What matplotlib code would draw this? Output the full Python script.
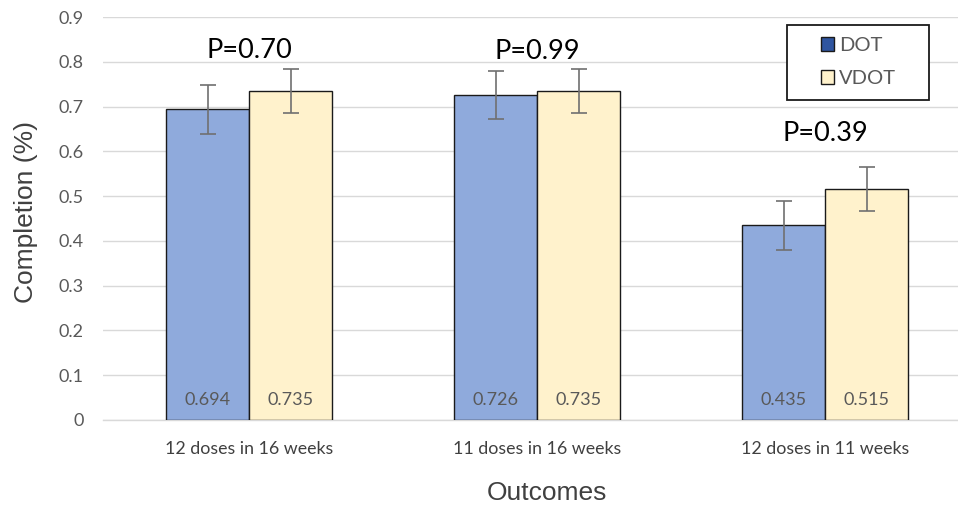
import matplotlib
matplotlib.use("Agg")
import matplotlib.pyplot as plt
from matplotlib.patches import Patch, Rectangle
import numpy as np

categories = ["12 doses in 16 weeks", "11 doses in 16 weeks", "12 doses in 11 weeks"]
dot = [0.694, 0.726, 0.435]
vdot = [0.735, 0.735, 0.515]
dot_err = [0.055, 0.054, 0.055]
vdot_err = [0.049, 0.049, 0.049]
p_labels = ["P=0.70", "P=0.99", "P=0.39"]
p_y = [0.825, 0.822, 0.64]
yticks = [0, 0.1, 0.2, 0.3, 0.4, 0.5, 0.6, 0.7, 0.8, 0.9]
ytick_labels = ["0", "0.1", "0.2", "0.3", "0.4", "0.5", "0.6", "0.7", "0.8", "0.9"]

W, H = 958, 507
fig = plt.figure(figsize=(W / 100, H / 100), dpi=100)
ax = fig.add_axes([103 / W, (H - 420) / H, (W - 103) / W, (420 - 17) / H])

x = np.arange(len(categories))
bw = 83 / 288
ax.bar(x - bw / 2, dot, width=bw, color="#8faadc", edgecolor="#1a1a1a", linewidth=1.0, zorder=3)
ax.bar(x + bw / 2, vdot, width=bw, color="#fff2cc", edgecolor="#1a1a1a", linewidth=1.0, zorder=3)
ax.errorbar(x - bw / 2, dot, yerr=dot_err, fmt="none", ecolor="#707070", elinewidth=1.2, capsize=6, capthick=1.2, zorder=4)
ax.errorbar(x + bw / 2, vdot, yerr=vdot_err, fmt="none", ecolor="#707070", elinewidth=1.2, capsize=6, capthick=1.2, zorder=4)

for xi, v in zip(x - bw / 2, dot):
    ax.text(xi, 0.045, f"{v:.3f}", ha="center", va="center", fontsize=13, color="#595959", family="Lato", zorder=5)
for xi, v in zip(x + bw / 2, vdot):
    ax.text(xi, 0.045, f"{v:.3f}", ha="center", va="center", fontsize=13, color="#595959", family="Lato", zorder=5)

for xi, lab, yy in zip(x, p_labels, p_y):
    ax.text(xi, yy, lab, ha="center", va="center", fontsize=19.5, color="black", family="Lato", zorder=5)

ax.set_xlim(-146 / 288, (W - 249) / 288)
ax.set_ylim(0, 0.9)
ax.set_yticks(yticks)
ax.set_yticklabels(ytick_labels, family="Lato", fontsize=13, color="#595959")
ax.set_xticks(x)
ax.set_xticklabels(categories, family="Lato", fontsize=12.8, color="#404040")
ax.tick_params(axis="both", length=0)
ax.tick_params(axis="y", pad=14)
ax.tick_params(axis="x", pad=15)
ax.grid(axis="y", color="#d9d9d9", linewidth=1.0, zorder=0)
for s in ["left", "right", "top"]:
    ax.spines[s].set_visible(False)
ax.spines["bottom"].set_color("#d9d9d9")
ax.spines["bottom"].set_linewidth(1.0)

fig.text(26 / W, (H - 212) / H, "Completion (%)", rotation=90, ha="center", va="center",
         fontsize=19, family="Liberation Sans", color="#404040")
fig.text(547 / W, (H - 493) / H, "Outcomes", ha="center", va="center",
         fontsize=19, family="Liberation Sans", color="#404040")

# legend box
fig.patches.append(Rectangle((787 / W, (H - 100) / H), (929 - 787) / W, 75 / H,
                             transform=fig.transFigure, facecolor="white",
                             edgecolor="#1a1a1a", linewidth=1.3, zorder=10))
handles = [Patch(facecolor="#2f55a0", edgecolor="#1a1a1a", label="DOT"),
           Patch(facecolor="#fff2cc", edgecolor="#1a1a1a", label="VDOT")]
leg = fig.legend(handles=handles, loc="center left", bbox_to_anchor=(821 / W, (H - 62) / H),
                 frameon=False, handlelength=0.65, handleheight=0.65, handletextpad=0.25,
                 borderpad=0, labelspacing=0.8, prop={"family": "Lato", "size": 14.5}, borderaxespad=0)
leg.set_zorder(11)
for t in leg.get_texts():
    t.set_color("#595959")

fig.savefig("out.png", dpi=100)
